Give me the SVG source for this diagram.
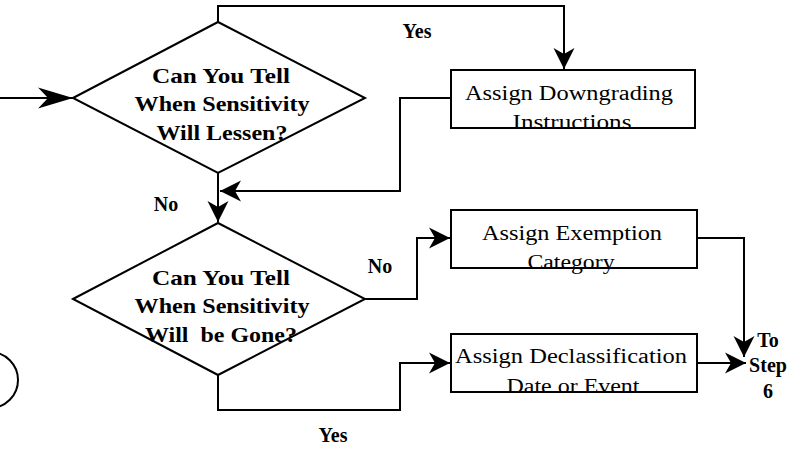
<svg xmlns="http://www.w3.org/2000/svg" width="803" height="449" viewBox="0 0 803 449">
  <style>
    .bg { fill: #ffffff; }
    .shape { fill: #ffffff; stroke: #000000; stroke-width: 2; }
    .frame { fill: none; stroke: #000000; stroke-width: 2; }
    .link { fill: none; stroke: #000000; stroke-width: 2; }
    .q { font-family: "Liberation Serif", "Times New Roman", serif; font-weight: bold; font-size: 22px; fill: #000000; text-anchor: middle; }
    .t { font-family: "Liberation Serif", "Times New Roman", serif; font-size: 20px; fill: #000000; text-anchor: middle; }
    .lbl { font-family: "Liberation Serif", "Times New Roman", serif; font-weight: bold; font-size: 20px; fill: #000000; text-anchor: middle; }
  </style>
  <defs>
    <marker id="arrow" markerUnits="userSpaceOnUse" markerWidth="22" markerHeight="22" viewBox="0 0 22 22" refX="21" refY="11" orient="auto">
      <path d="M21,11 L0,0.5 L6,11 L0,21.5 Z" fill="#000000"/>
    </marker>
    <marker id="arrowBig" markerUnits="userSpaceOnUse" markerWidth="36" markerHeight="24" viewBox="0 0 36 24" refX="35" refY="12" orient="auto">
      <path d="M35,12 L0,1.5 L10,12 L0,22.5 Z" fill="#000000"/>
    </marker>
  </defs>

  <rect class="bg" x="0" y="0" width="803" height="449"/>

  <!-- connectors -->
  <g id="connectors">
    <path class="link" d="M0,98 H73" marker-end="url(#arrowBig)"/>
    <path class="link" d="M218,22 V6 H564 V69" marker-end="url(#arrow)"/>
    <path class="link" d="M451,98 H400 V191 H220" marker-end="url(#arrow)"/>
    <path class="link" d="M218,173 V222" marker-end="url(#arrow)"/>
    <path class="link" d="M365,299 H417 V238 H450" marker-end="url(#arrow)"/>
    <path class="link" d="M697,238 H744 V357" marker-end="url(#arrow)"/>
    <path class="link" d="M218,375 V410 H400 V363 H450" marker-end="url(#arrow)"/>
    <path class="link" d="M697,363 H746" marker-end="url(#arrow)"/>
  </g>

  <!-- off-page connector circle -->
  <g id="connector-circle">
    <circle class="frame" cx="-10" cy="380" r="28"/>
  </g>

  <!-- decision: sensitivity lessens -->
  <g id="decision-lessen">
    <polygon class="shape" points="73,98 218,22 365,98 218,173"/>
    <text class="q" x="221" y="83" textLength="138" lengthAdjust="spacingAndGlyphs">Can You Tell</text>
    <text class="q" x="222" y="111" textLength="175" lengthAdjust="spacingAndGlyphs">When Sensitivity</text>
    <text class="q" x="222" y="140" textLength="131" lengthAdjust="spacingAndGlyphs">Will Lessen?</text>
  </g>

  <!-- decision: sensitivity gone -->
  <g id="decision-gone">
    <polygon class="shape" points="73,299 218,223 365,299 218,375"/>
    <text class="q" x="221" y="285" textLength="138" lengthAdjust="spacingAndGlyphs">Can You Tell</text>
    <text class="q" x="222" y="313" textLength="175" lengthAdjust="spacingAndGlyphs">When Sensitivity</text>
    <text class="q" x="221" y="342" textLength="152" lengthAdjust="spacingAndGlyphs" xml:space="preserve">Will  be Gone?</text>
  </g>

  <!-- process: downgrading -->
  <g id="box-downgrading">
    <rect class="bg" x="451" y="70" width="244" height="58"/>
    <text class="t" x="569" y="100" textLength="208" lengthAdjust="spacingAndGlyphs">Assign Downgrading</text>
    <text class="t" x="572" y="129" textLength="119" lengthAdjust="spacingAndGlyphs">Instructions</text>
    <rect class="frame" x="451" y="70" width="244" height="58"/>
  </g>

  <!-- process: exemption -->
  <g id="box-exemption">
    <rect class="bg" x="451" y="210" width="246" height="58"/>
    <text class="t" x="572" y="240" textLength="180" lengthAdjust="spacingAndGlyphs">Assign Exemption</text>
    <text class="t" x="571" y="269" textLength="87" lengthAdjust="spacingAndGlyphs">Category</text>
    <rect class="frame" x="451" y="210" width="246" height="58"/>
  </g>

  <!-- process: declassification -->
  <g id="box-declassification">
    <rect class="bg" x="451" y="334" width="246" height="58"/>
    <text class="t" x="571" y="363" textLength="232" lengthAdjust="spacingAndGlyphs">Assign Declassification</text>
    <text class="t" x="573" y="393" textLength="133" lengthAdjust="spacingAndGlyphs">Date or Event</text>
    <rect class="frame" x="451" y="334" width="246" height="58"/>
  </g>

  <!-- branch labels -->
  <g id="labels">
    <text class="lbl" x="417" y="38">Yes</text>
    <text class="lbl" x="166" y="211">No</text>
    <text class="lbl" x="380" y="273">No</text>
    <text class="lbl" x="333" y="442">Yes</text>
  </g>

  <!-- destination -->
  <g id="to-step-6">
    <text class="lbl" x="768" y="347">To</text>
    <text class="lbl" x="768" y="372">Step</text>
    <text class="lbl" x="768" y="398">6</text>
  </g>
</svg>
